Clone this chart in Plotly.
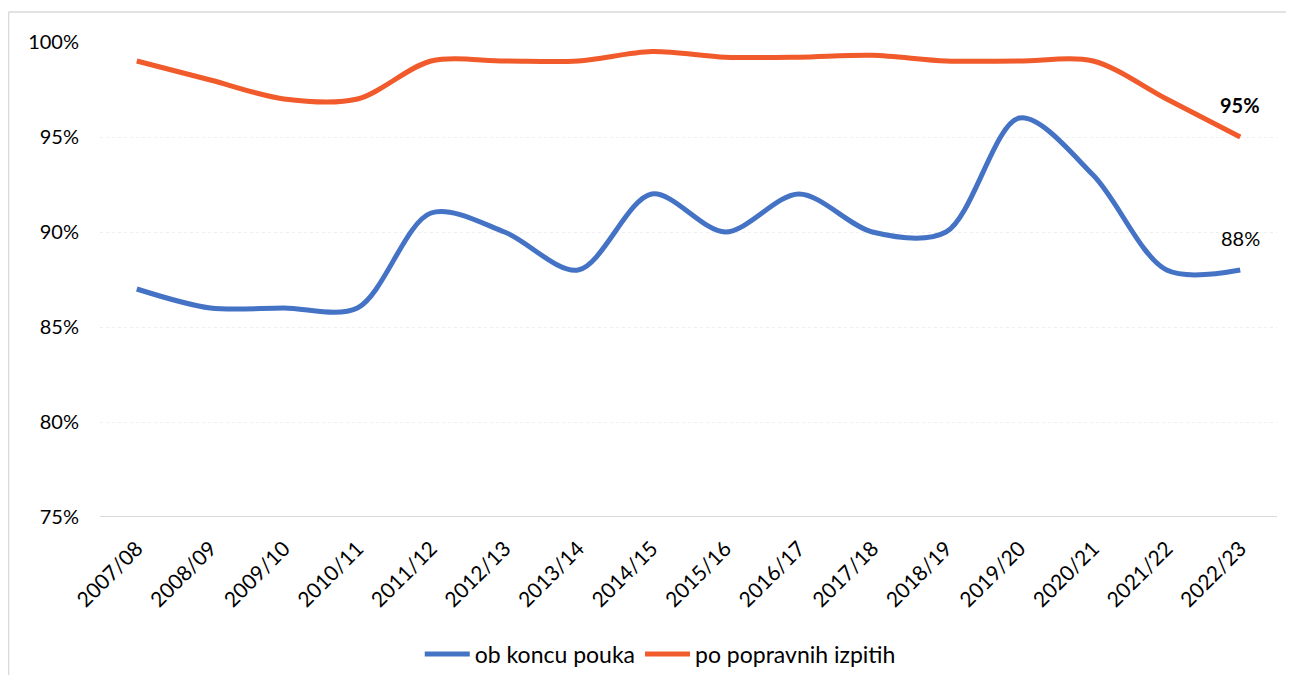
import plotly.graph_objects as go

categories = ["2007/08", "2008/09", "2009/10", "2010/11", "2011/12", "2012/13", "2013/14",
              "2014/15", "2015/16", "2016/17", "2017/18", "2018/19", "2019/20", "2020/21",
              "2021/22", "2022/23"]
ob_koncu_pouka = [0.87, 0.86, 0.86, 0.86, 0.91, 0.90, 0.88, 0.92, 0.90, 0.92, 0.90, 0.90,
                  0.96, 0.93, 0.88, 0.88]
po_popravnih = [0.99, 0.98, 0.97, 0.97, 0.99, 0.99, 0.99, 0.995, 0.992, 0.992, 0.993, 0.99,
                0.99, 0.99, 0.97, 0.95]
series_names = ["ob koncu pouka", "po popravnih izpitih"]
colors = ["#4472C4", "#F15A2B"]

FONT = "Lato, Liberation Sans, sans-serif"

fig = go.Figure()
for name, vals, col in zip(series_names, [ob_koncu_pouka, po_popravnih], colors):
    fig.add_trace(go.Scatter(
        x=categories, y=vals, name=name, mode="lines",
        line=dict(color=col, width=5, shape="spline", smoothing=0.9),
        hoverinfo="x+y",
    ))

fig.add_annotation(x=categories[-1], y=po_popravnih[-1], text="<b>95%</b>",
                   showarrow=False, yshift=32, font=dict(size=20, color="#000"))
fig.add_annotation(x=categories[-1], y=ob_koncu_pouka[-1], text="88%",
                   showarrow=False, yshift=32, font=dict(size=20, color="#000"))

# outer chart frame: top and left edges
fig.add_shape(type="line", xref="paper", yref="paper",
              x0=(8.5 - 100) / 1177, x1=(1310 - 100) / 1177,
              y0=(517 - 12) / 475, y1=(517 - 12) / 475,
              line=dict(color="#D9D9D9", width=1.5), layer="below")
fig.add_shape(type="line", xref="paper", yref="paper",
              x0=(8.5 - 100) / 1177, x1=(8.5 - 100) / 1177,
              y0=(517 - 700) / 475, y1=(517 - 12) / 475,
              line=dict(color="#D9D9D9", width=1.5), layer="below")

fig.update_layout(
    width=1286, height=667,
    margin=dict(l=92, r=17, t=34, b=158, autoexpand=False),
    paper_bgcolor="white", plot_bgcolor="white",
    font=dict(family=FONT, size=20, color="#000"),
    showlegend=True,
    legend=dict(orientation="h", x=0.476, xanchor="center", y=(517 - 654) / 475,
                yanchor="middle", font=dict(size=23), itemwidth=45),
    xaxis=dict(type="category", range=[-0.5, len(categories) - 0.5], automargin=False,
               tickangle=-45, showgrid=False, showline=False,
               ticks="outside", ticklen=10, tickcolor="rgba(0,0,0,0)", tickfont=dict(size=21)),
    yaxis=dict(range=[0.75, 1.0], tickformat=".0%", dtick=0.05, showgrid=True, automargin=False,
               gridcolor="#EFEFEF", gridwidth=1, griddash="dot", zeroline=False,
               showline=False, ticks="", tickfont=dict(size=20), ticklabelstandoff=20),
)
fig.add_shape(type="line", xref="paper", yref="y", x0=0, x1=1, y0=0.75, y1=0.75,
              line=dict(color="#D9D9D9", width=2), layer="below")

fig.write_html("out.html")
